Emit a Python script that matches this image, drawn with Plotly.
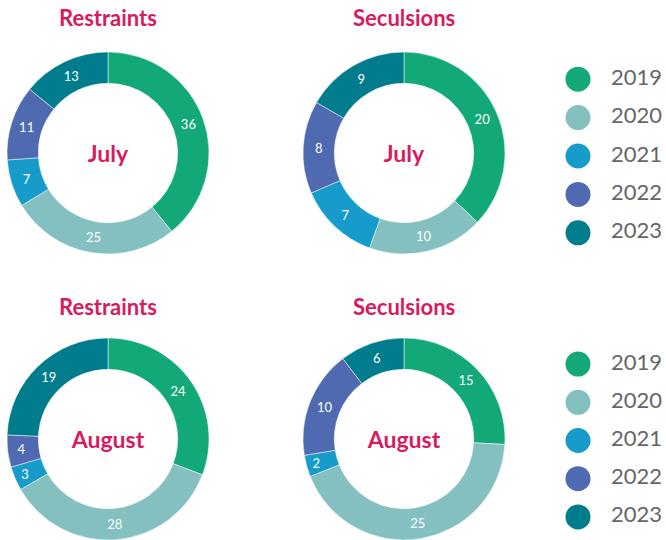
import plotly.graph_objects as go

years = ["2019", "2020", "2021", "2022", "2023"]
colors = ["#12A877", "#84C0C0", "#169BCB", "#4F6AB1", "#007C8C"]

july_restraints = [36, 25, 7, 11, 13]
july_seclusions = [20, 10, 7, 8, 9]
aug_restraints = [24, 28, 3, 4, 19]
aug_seclusions = [15, 25, 2, 10, 6]

panel_titles = ["Restraints", "Seculsions", "Restraints", "Seculsions"]
month_titles = ["July", "July", "August", "August"]

W, H = 666, 540
MAGENTA = "#D81B60"
FONT = "Lato"

def px_dom_x(a, b):
    return [max(0, a / W), min(1, b / W)]

def px_dom_y(top, bottom):
    return [max(0, 1 - bottom / H), min(1, 1 - top / H)]

panels = [
    (july_restraints, (108, 153)),
    (july_seclusions, (404, 153)),
    (aug_restraints, (108, 439)),
    (aug_seclusions, (404, 439)),
]
R = 101

fig = go.Figure()
for i, (vals, (cx, cy)) in enumerate(panels):
    fig.add_trace(go.Pie(
        labels=years, values=vals, sort=False, direction="clockwise", rotation=0,
        hole=0.69,
        marker=dict(colors=colors, line=dict(color="white", width=0.5)),
        textinfo="value", textposition="inside", insidetextorientation="horizontal",
        insidetextfont=dict(color="white", size=13, family=FONT),
        title=dict(text=month_titles[i], position="middle center",
                   font=dict(color=MAGENTA, size=23, family=FONT, weight="bold")),
        domain=dict(x=px_dom_x(cx - R, cx + R), y=px_dom_y(cy - R, cy + R)),
        showlegend=False, hoverinfo="label+value",
    ))
    fig.add_annotation(text=panel_titles[i], x=cx / W, y=1 - 18 / H if i < 2 else 1 - 306 / H,
                       xref="paper", yref="paper", showarrow=False, xanchor="center", yanchor="middle",
                       font=dict(color=MAGENTA, size=22, family=FONT, weight="bold"))

# legends drawn as scatter traces
legend_specs = [("x", "y", px_dom_y(60, 252)), ("x2", "y2", px_dom_y(345, 536))]
for xa, ya, ydom in legend_specs:
    fig.add_trace(go.Scatter(x=[18] * len(years), y=years, mode="markers",
                             marker=dict(size=25, color=colors), xaxis=xa, yaxis=ya,
                             showlegend=False, hoverinfo="skip"))
    fig.add_trace(go.Scatter(x=[51] * len(years), y=years, mode="text", text=years,
                             textposition="middle right",
                             textfont=dict(size=22, color="#666666", family=FONT),
                             xaxis=xa, yaxis=ya, showlegend=False, hoverinfo="skip"))

axis_common = dict(visible=False, showgrid=False, zeroline=False, fixedrange=True)
fig.update_layout(
    width=W, height=H, margin=dict(l=0, r=0, t=0, b=0),
    paper_bgcolor="white", plot_bgcolor="rgba(0,0,0,0)",
    xaxis=dict(domain=px_dom_x(560, 666), range=[0, 106], **axis_common),
    yaxis=dict(domain=legend_specs[0][2], type="category", range=[4.5, -0.5], **axis_common),
    xaxis2=dict(domain=px_dom_x(560, 666), range=[0, 106], **axis_common),
    yaxis2=dict(domain=legend_specs[1][2], type="category", range=[4.5, -0.5], **axis_common),
)

fig.write_html("out.html", config={"displayModeBar": False},
               post_script="document.body.style.margin='0';document.body.style.overflow='hidden';")
